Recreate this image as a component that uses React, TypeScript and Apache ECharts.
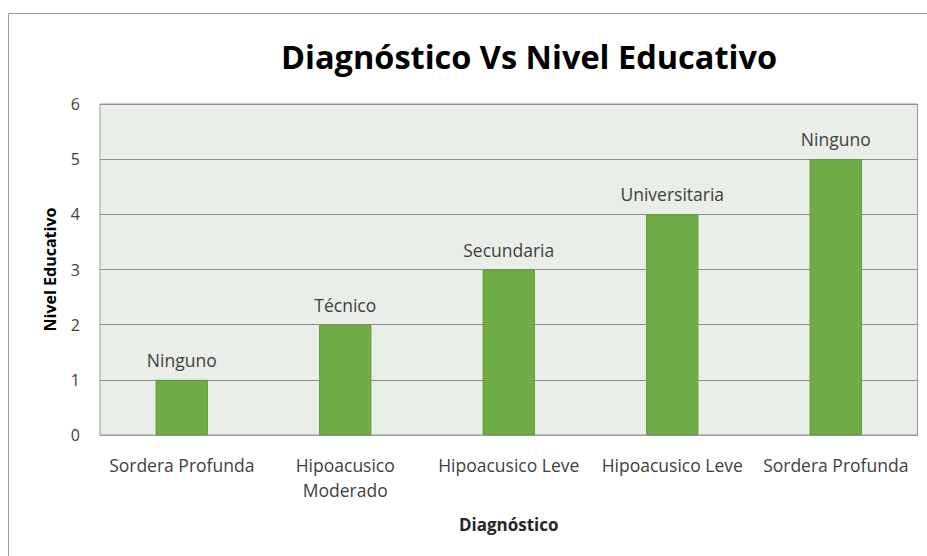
import React, { useEffect, useRef } from "react";
import * as echarts from "echarts";

const categories = [
  "Sordera Profunda",
  "Hipoacusico\nModerado",
  "Hipoacusico Leve",
  "Hipoacusico Leve",
  "Sordera Profunda",
];
const values = [1, 2, 3, 4, 5];
const barLabels = ["Ninguno", "Técnico", "Secundaria", "Universitaria", "Ninguno"];
const yTicks = [0, 1, 2, 3, 4, 5, 6];

const FONT = "'Open Sans', 'Noto Sans', sans-serif";

export default function App() {
  const ref = useRef<HTMLDivElement>(null);
  useEffect(() => {
    if (!ref.current) return;
    const chart = echarts.init(ref.current, undefined, { renderer: "svg" });
    chart.setOption({
      animation: false,
      backgroundColor: "#ffffff",
      title: {
        text: "Diagnóstico Vs Nivel Educativo",
        left: 524,
        top: 35,
        textAlign: "center",
        textStyle: { fontFamily: FONT, fontSize: 32.5, fontWeight: "bold", color: "#000000" },
      },
      graphic: [
        {
          type: "rect",
          shape: { x: 8.5, y: 13.5, width: 1000, height: 1000 },
          style: { fill: "none", stroke: "#9a9a9a", lineWidth: 1 },
          silent: true,
        },
      ],
      grid: {
        left: 100,
        right: 9.5,
        top: 104,
        bottom: 121,
        show: true,
        backgroundColor: "#eaeee8",
        borderColor: "#9a9a9a",
        borderWidth: 1,
      },
      xAxis: {
        type: "category",
        data: categories,
        name: "Diagnóstico",
        nameLocation: "middle",
        nameGap: 81,
        nameTextStyle: { fontFamily: FONT, fontSize: 17, fontWeight: "bold", color: "#262626" },
        axisLine: { lineStyle: { color: "#9a9a9a", width: 1 } },
        axisTick: { show: false },
        axisLabel: {
          fontFamily: FONT,
          fontSize: 17.5,
          color: "#404040",
          margin: 17,
          lineHeight: 25,
          interval: 0,
        },
      },
      yAxis: {
        type: "value",
        min: yTicks[0],
        max: yTicks[yTicks.length - 1],
        interval: 1,
        name: "Nivel Educativo",
        nameLocation: "middle",
        nameRotate: 90,
        nameGap: 42,
        nameTextStyle: { fontFamily: FONT, fontSize: 16, fontWeight: "bold", color: "#000000" },
        axisLine: { show: false },
        axisTick: { show: false },
        axisLabel: { fontFamily: FONT, fontSize: 16, color: "#404040", margin: 20 },
        splitLine: { lineStyle: { color: "#8e8e8e", width: 1 } },
      },
      series: [
        {
          type: "bar",
          data: values,
          barWidth: "32%",
          itemStyle: { color: "#70ad47", borderColor: "#5e9a3a", borderWidth: 1 },
          label: {
            show: true,
            position: "top",
            distance: 11,
            fontFamily: FONT,
            fontSize: 17.5,
            color: "#404040",
            formatter: (p: any) => barLabels[p.dataIndex],
          },
        },
      ],
    });
    return () => chart.dispose();
  }, []);
  return (
    <div
      ref={ref}
      style={{ position: "fixed", left: 0, top: 0, width: 927, height: 556 }}
    />
  );
}
